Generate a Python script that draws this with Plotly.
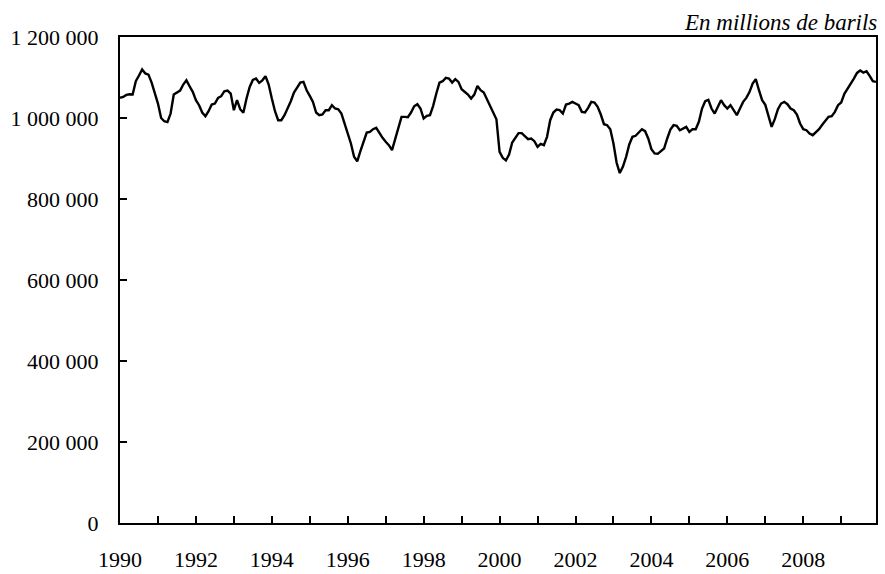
import plotly.graph_objects as go

start_year = 1990
# Monthly stocks, Jan 1990 - Dec 2009 (millions de barils)
values = [
    1049700, 1052000, 1057000, 1058700, 1058000, 1090800, 1105000, 1120000, 1110000, 1107000,
    1087500, 1064500, 1035700, 1000000, 992000, 990000, 1011000, 1058000, 1063700, 1067800,
    1082600, 1093000, 1078500, 1064500, 1044000, 1031600, 1013500, 1004500, 1016800, 1033200,
    1035700, 1049700, 1053800, 1066100, 1067800, 1060400, 1019300, 1044000, 1021700, 1013000,
    1048000, 1076800, 1094000, 1097400, 1086700, 1093000, 1103100, 1082600, 1048000, 1016800,
    994600, 994600, 1007000, 1023400, 1041500, 1062800, 1076800, 1087500, 1089200, 1068600,
    1054600, 1039800, 1013500, 1007000, 1008600, 1019300, 1019300, 1031600, 1023400, 1021700,
    1011000, 986400, 957600, 937100, 904200, 893000, 918200, 941200, 964200, 965800,
    972400, 975700, 961700, 951100, 941200, 933000, 920700, 947800, 969900, 1002800,
    1002800, 1002000, 1013500, 1029100, 1034100, 1023400, 998700, 1005300, 1007000, 1030000,
    1060400, 1087500, 1090800, 1099000, 1097400, 1087500, 1095700, 1089200, 1071100, 1064500,
    1057900, 1048000, 1057900, 1079300, 1068600, 1062800, 1046400, 1033200, 1013500, 997000,
    916500, 901700, 895200, 910000, 939600, 951000, 962600, 962600, 956000, 947800,
    949400, 942800, 928800, 936200, 933000, 953500, 994600, 1013500, 1020900, 1019300,
    1011000, 1033200, 1035700, 1039800, 1035700, 1031600, 1015200, 1013500, 1025000, 1039800,
    1038200, 1027500, 1008600, 984700, 982300, 972400, 937100, 889400, 864000, 880000,
    904200, 934600, 953500, 956000, 964200, 972400, 967500, 949400, 923100, 912400,
    911600, 918200, 924700, 949400, 971600, 982300, 980600, 969900, 974100, 978200,
    965800, 972400, 972400, 990500, 1023400, 1041500, 1044700, 1023400, 1011000, 1027500,
    1043900, 1031600, 1023400, 1031600, 1019300, 1007000, 1023400, 1039800, 1049700, 1064000,
    1085000, 1096000, 1068600, 1044000, 1032400, 1002800, 978000, 997100, 1021700, 1035700,
    1039800, 1034100, 1023400, 1019300, 1008600, 986400, 972400, 969900, 961700, 957600,
    964200, 972400, 983100, 994600, 1002800, 1004500, 1015200, 1031600, 1038200, 1059600,
    1071100, 1085000, 1097400, 1111300, 1117100, 1112200, 1115400, 1103900, 1090800, 1089200,
]
x_dates = [start_year + i / 12 for i in range(len(values))]

year_ticks = list(range(1990, 2010))
year_labels = [str(y) if y % 2 == 0 else "" for y in year_ticks]
y_ticks = [0, 200000, 400000, 600000, 800000, 1000000, 1200000]
y_labels = ["0", "200 000", "400 000", "600 000", "800 000", "1 000 000", "1 200 000"]
unit_label = "En millions de barils"

fig = go.Figure()
fig.add_trace(go.Scatter(
    x=x_dates, y=values, mode="lines",
    line=dict(color="black", width=2.4),
    hoverinfo="skip", showlegend=False,
))

serif = "Liberation Serif"
font = dict(family=serif, size=22, color="black")

fig.update_layout(
    width=885, height=574,
    margin=dict(l=120, r=9, t=37, b=51),
    paper_bgcolor="white", plot_bgcolor="white",
    font=font,
    showlegend=False,
    xaxis=dict(
        range=[start_year, x_dates[-1]],
        tickvals=year_ticks, ticktext=year_labels,
        ticks="inside", ticklen=7, tickwidth=1.5, tickcolor="black",
        showline=True, linecolor="black", linewidth=2, mirror=True,
        showgrid=False, zeroline=False, automargin=False,
        ticklabelstandoff=16, tickfont=font,
    ),
    yaxis=dict(
        range=[0, 1200000],
        tickvals=y_ticks, ticktext=y_labels,
        ticks="inside", ticklen=7, tickwidth=1.5, tickcolor="black",
        showline=True, linecolor="black", linewidth=2, mirror=True,
        showgrid=False, zeroline=False, automargin=False,
        ticklabelstandoff=15, tickfont=font,
    ),
    annotations=[dict(
        text="<i>" + unit_label + "</i>",
        xref="paper", yref="paper", x=1, y=1,
        xanchor="right", yanchor="bottom", yshift=0, xshift=3,
        showarrow=False,
        font=dict(family=serif, size=23, color="black"),
    )],
)

fig.write_html(
    "out.html",
    config={"displayModeBar": False},
    post_script="document.body.style.margin='0px';document.body.style.overflow='hidden';",
)
